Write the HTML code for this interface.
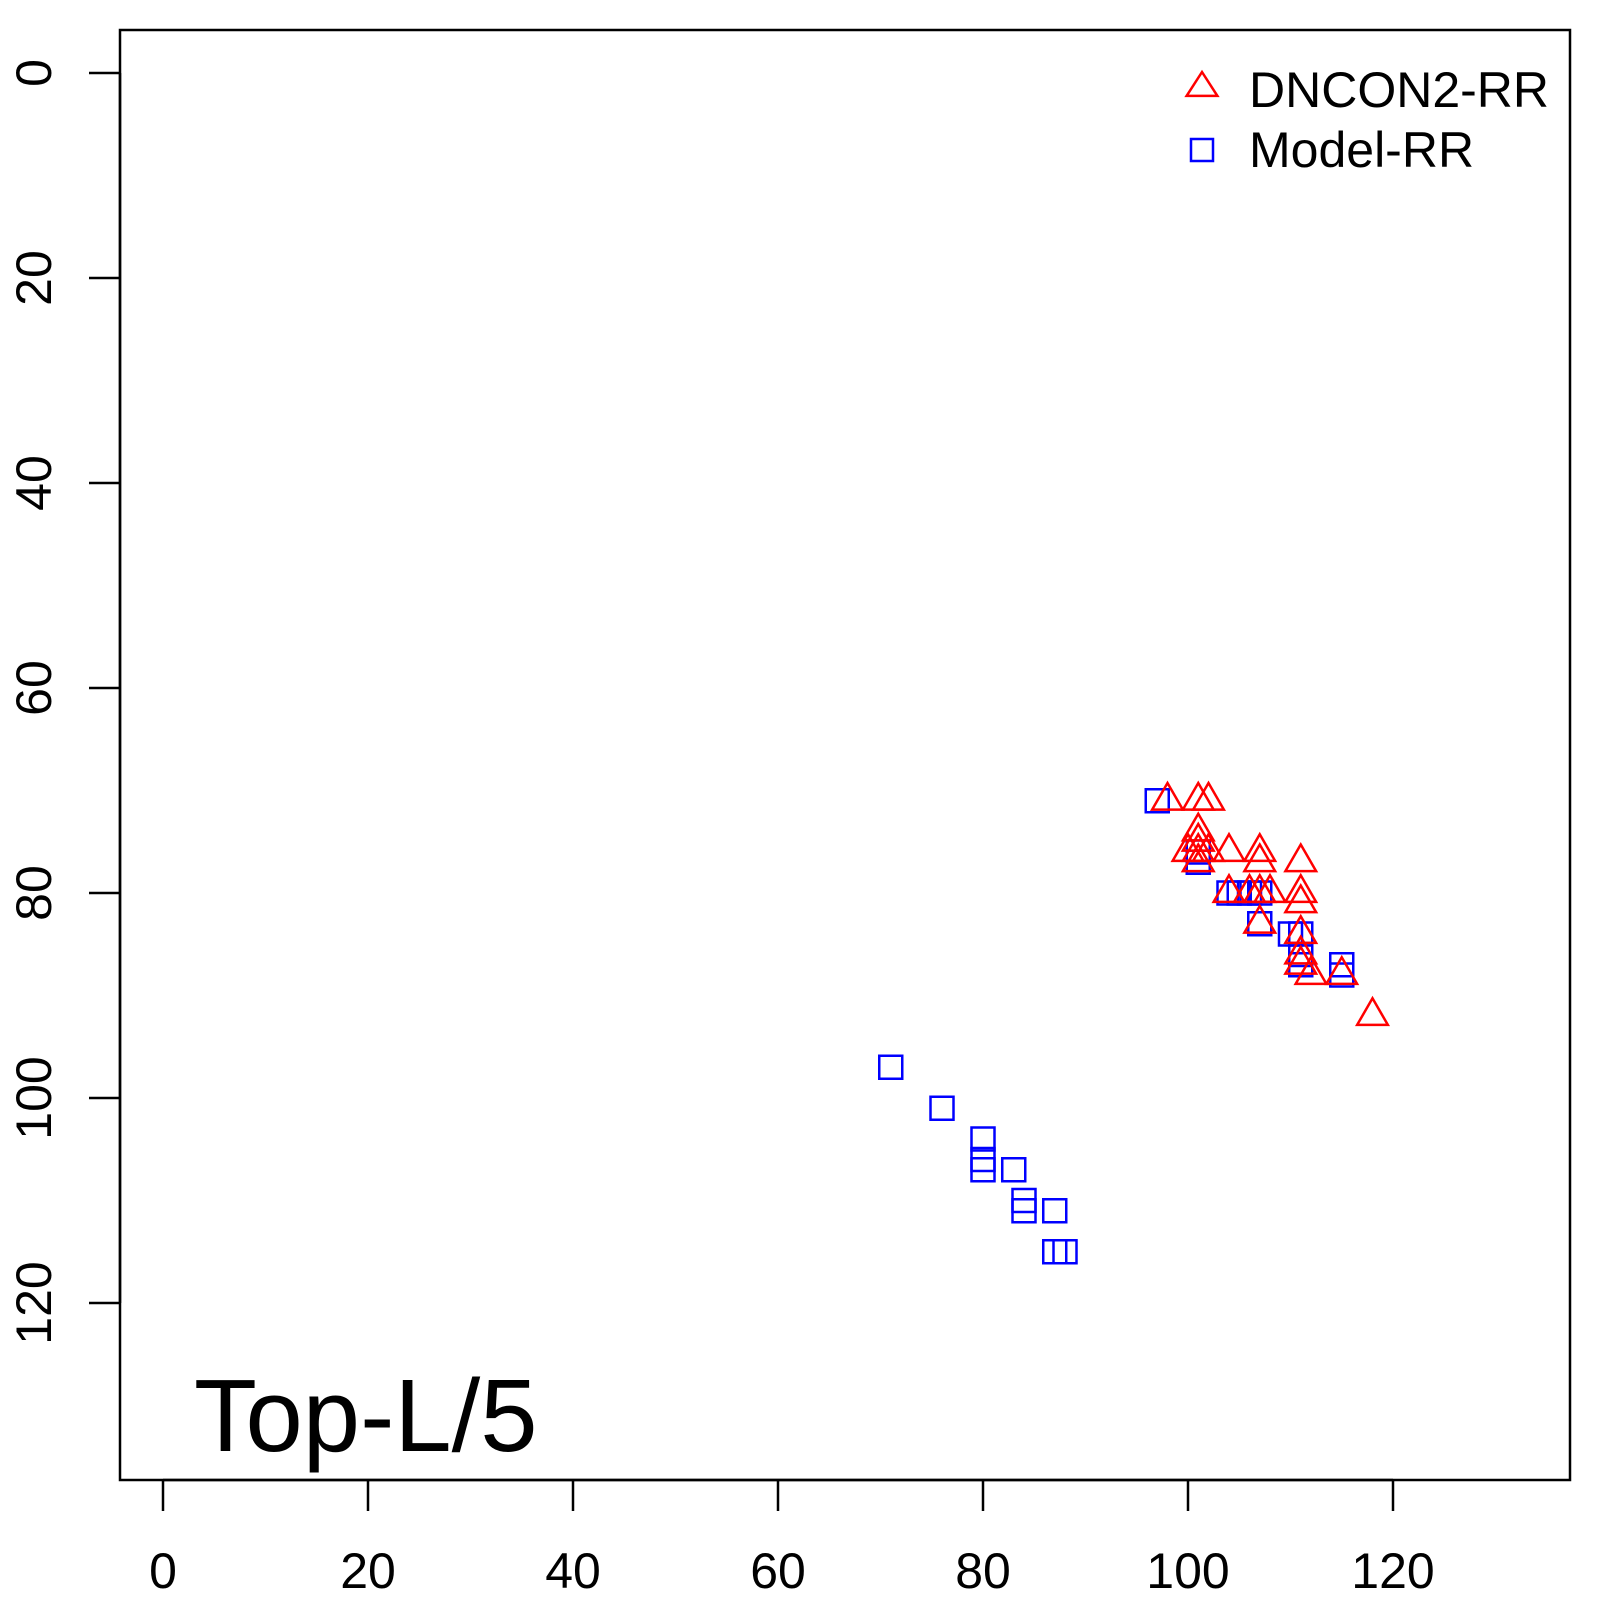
<!DOCTYPE html>
<html><head><meta charset="utf-8"><style>
html,body{margin:0;padding:0;background:#fff}
svg{display:block;font-family:"Liberation Sans",Arial,sans-serif}
</style></head><body>
<svg id="chart" width="1600" height="1600" viewBox="0 0 1600 1600" xmlns="http://www.w3.org/2000/svg">
<rect x="120" y="30" width="1450" height="1450" fill="none" stroke="#000" stroke-width="2.5"/>
<g id="axes"></g>
<g id="marks"></g>
<text x="194" y="1451" font-size="103" fill="#000">Top-L/5</text>
<g>
  <polygon points="1202,72 1217.4,95.9 1186.6,95.9" fill="none" stroke="#f00" stroke-width="2.5"/>
  <text x="1249" y="107" font-size="50" fill="#000">DNCON2-RR</text>
  <rect x="1191" y="139" width="22" height="22" fill="none" stroke="#00f" stroke-width="2.5"/>
  <text x="1249" y="167" font-size="50" fill="#000">Model-RR</text>
</g>
</svg>
<script>
const xTicks = [0, 20, 40, 60, 80, 100, 120];
const yTicks = [0, 20, 40, 60, 80, 100, 120];
const dnconX = [98, 101, 102, 101, 101, 100, 101, 102, 101, 104, 107, 107, 111, 104, 106, 107, 108, 111, 111, 107, 111, 111, 111, 112, 115, 118];
const dnconY = [71, 71, 71, 74, 75, 76, 76, 76, 77, 76, 76, 77, 77, 80, 80, 80, 80, 80, 81, 83, 84, 86, 87, 88, 88, 92];
const modelX = [97, 101, 101, 104, 105, 106, 107, 107, 110, 111, 111, 111, 115, 115, 71, 76, 80, 80, 80, 83, 84, 84, 87, 87, 88];
const modelY = [71, 76, 77, 80, 80, 80, 80, 83, 84, 84, 86, 87, 87, 88, 97, 101, 104, 106, 107, 107, 110, 111, 111, 115, 115];

const NS = "http://www.w3.org/2000/svg";
const sx = v => 163 + v * 10.25;
const sy = v => 73 + v * 10.25;
const axes = document.getElementById('axes');
const marks = document.getElementById('marks');
function mk(tag, attrs, parent) {
  const e = document.createElementNS(NS, tag);
  for (const k in attrs) e.setAttribute(k, attrs[k]);
  parent.appendChild(e);
  return e;
}
// x axis
const xl = mk('line', {x1: sx(xTicks[0]), x2: sx(xTicks[xTicks.length-1]), y1: 1480, y2: 1480, stroke: '#000', 'stroke-width': 2.5}, axes);


xTicks.forEach(t => {
  const l = mk('line', {x1: sx(t), x2: sx(t), y1: 1480, y2: 1511, stroke: '#000', 'stroke-width': 2.5}, axes);
  
  
  const tx = mk('text', {x: sx(t), y: 1588, 'font-size': 50, 'text-anchor': 'middle', fill: '#000'}, axes);
  tx.textContent = t;
  
  
});
// y axis
const yl = mk('line', {x1: 120, x2: 120, y1: sy(yTicks[0]), y2: sy(yTicks[yTicks.length-1]), stroke: '#000', 'stroke-width': 2.5}, axes);


yTicks.forEach(t => {
  const l = mk('line', {x1: 89, x2: 120, y1: sy(t), y2: sy(t), stroke: '#000', 'stroke-width': 2.5}, axes);
  
  
  const tx = mk('text', {x: 51, y: sy(t), 'font-size': 50, 'text-anchor': 'middle', fill: '#000', transform: `rotate(-90 51 ${sy(t)})`}, axes);
  tx.textContent = t;
  
  
});
// model squares
modelX.forEach((v, i) => {
  const cx = sx(v), cy = sy(modelY[i]);
  const r = mk('rect', {x: cx - 11.5, y: cy - 11.5, width: 23, height: 23, fill: 'none', stroke: '#00f', 'stroke-width': 2.5}, marks);
  
  
});
// dncon triangles
const a = 11.4;
dnconX.forEach((v, i) => {
  const cx = sx(v), cy = sy(dnconY[i]);
  const pts = `${cx},${cy - 1.555*a} ${cx + 1.347*a},${cy + 0.778*a} ${cx - 1.347*a},${cy + 0.778*a}`;
  const p = mk('polygon', {points: pts, fill: 'none', stroke: '#f00', 'stroke-width': 2.5}, marks);
  
  
});
</script>
</body></html>
